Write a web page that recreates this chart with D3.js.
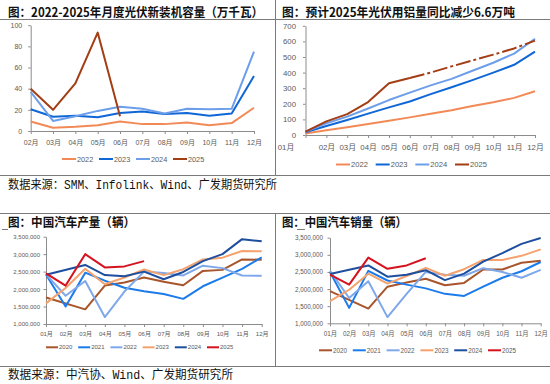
<!DOCTYPE html>
<html><head><meta charset="utf-8">
<script src="https://cdn.jsdelivr.net/npm/d3@7/dist/d3.min.js"></script>
<style>
html,body{margin:0;padding:0;background:#fff;}
svg{display:block;}
</style></head>
<body>
<svg id="c" width="550" height="384"></svg>
<script>
// ---------- DATA ----------
const pvMonths = ["02月","03月","04月","05月","06月","07月","08月","09月","10月","11月","12月"];
const pvYears = ["2022","2023","2024","2025"];
const pv2022 = [9,3,4,5.5,9,6.5,6.5,8,5.5,7.5,22];
const pv2023 = [20.5,13.5,14.5,13,17,18.5,16,17,14.5,16.5,52];
const pv2024 = [37,9.5,14,19,23,21,16.5,21,20.5,21,75];
const pv2025 = [40,20,45,93,14,null,null,null,null,null,null];
const pvTicks = [0,20,40,60,80,100];

const alMonths = ["01月","02月","03月","04月","05月","06月","07月","08月","09月","10月","11月","12月"];
const al2022 = [10,30,49,70,91,113,136,159,186,210,238,280];
const al2023 = [18,58,96,137,177,215,262,306,352,400,450,535];
const al2024 = [20,75,118,170,224,272,318,360,412,463,522,617];
const al2025 = [22,87,134,211,332,365,null,null,null,null,null,null];
const al2025Fcst = [null,null,null,null,null,365,400,440,478,515,555,605];
const alTicks = [0,100,200,300,400,500,600,700];

const carMonths = ["01月","02月","03月","04月","05月","06月","07月","08月","09月","10月","11月","12月"];
const carYears = ["2020","2021","2022","2023","2024","2025"];
const prod2020 = [1.76e6,null,1.42e6,2.10e6,2.19e6,2.33e6,2.21e6,2.11e6,2.52e6,2.55e6,2.85e6,2.84e6];
const prod2021 = [2.42e6,1.50e6,2.47e6,2.24e6,2.04e6,1.94e6,1.86e6,1.72e6,2.08e6,2.33e6,2.58e6,2.91e6];
const prod2022 = [2.42e6,1.81e6,2.23e6,1.20e6,1.93e6,2.50e6,2.46e6,2.39e6,2.67e6,2.60e6,2.39e6,2.38e6];
const prod2023 = [1.59e6,2.03e6,2.58e6,2.14e6,2.33e6,2.56e6,2.40e6,2.57e6,2.85e6,2.90e6,3.09e6,3.08e6];
const prod2024 = [2.41e6,null,2.69e6,2.40e6,2.37e6,2.50e6,2.28e6,2.49e6,2.80e6,3.00e6,3.43e6,3.37e6];
const prod2025 = [2.45e6,2.10e6,3.00e6,2.62e6,2.65e6,2.80e6,null,null,null,null,null,null];
const sale2020 = [1.94e6,null,1.43e6,2.07e6,2.19e6,2.30e6,2.11e6,2.18e6,2.57e6,2.57e6,2.77e6,2.83e6];
const sale2021 = [2.50e6,1.45e6,2.53e6,2.25e6,2.13e6,2.02e6,1.86e6,1.80e6,2.07e6,2.33e6,2.52e6,2.79e6];
const sale2022 = [2.53e6,1.74e6,2.23e6,1.18e6,1.86e6,2.50e6,2.42e6,2.39e6,2.61e6,2.50e6,2.33e6,2.56e6];
const sale2023 = [1.65e6,1.98e6,2.45e6,2.16e6,2.38e6,2.62e6,2.39e6,2.58e6,2.85e6,2.85e6,2.97e6,3.16e6];
const sale2024 = [2.44e6,null,2.69e6,2.36e6,2.42e6,2.55e6,2.26e6,2.45e6,2.80e6,3.05e6,3.32e6,3.49e6];
const sale2025 = [2.42e6,2.13e6,2.92e6,2.59e6,2.69e6,2.90e6,null,null,null,null,null,null];
const carTicks = [1e6,1.5e6,2e6,2.5e6,3e6,3.5e6];

// ---------- STYLE ----------
const C = {
  o:"#F28A57", b:"#0F66D6", lb:"#6D9EEA", dr:"#A33D14",
  c20:"#A8552B", c21:"#1C7BEA", c22:"#7EA8EA", c23:"#F4A26E", c24:"#1E4F9E", c25:"#D5121E"
};
const svg = d3.select("#c");
const CJK = "'Noto Sans CJK SC', sans-serif";
const LAT = "'Liberation Sans', Arial, 'Noto Sans CJK SC', sans-serif";

// frame lines
const frame = [
  [0,19,550,19],[0,175,550,175],[275,0,275,175],
  [0,213,550,213],[0,366,550,366],[275,213,275,366],
  [2,229,8,229],[297,229,305,229]
];
svg.selectAll("line.frame").data(frame).join("line").attr("class","frame")
  .attr("x1",d=>d[0]).attr("y1",d=>d[1]).attr("x2",d=>d[2]).attr("y2",d=>d[3])
  .attr("stroke","#7a7a7a").attr("stroke-width",1).attr("shape-rendering","crispEdges");

function title(x,y,txt,len){
  svg.append("text").attr("x",x).attr("y",y).text(txt)
    .attr("font-family",CJK).attr("font-weight","bold").attr("font-size",12.5)
    .attr("fill","#111").attr("textLength",len).attr("lengthAdjust","spacingAndGlyphs");
}
title(8,16.5,"图：2022-2025年月度光伏新装机容量（万千瓦）",255);
title(282,16.5,"图：预计2025年光伏用铝量同比减少6.6万吨",233);
title(8,227,"图：中国汽车产量（辆）",127);
title(282,227,"图：中国汽车销量（辆）",125);

function source(x,y,txt,len){
  svg.append("text").attr("x",x).attr("y",y).text(txt)
    .attr("font-family","'Liberation Mono','Noto Sans CJK SC',monospace").attr("font-size",12)
    .attr("fill","#111").attr("textLength",len).attr("lengthAdjust","spacingAndGlyphs");
}
source(8,189,"数据来源：SMM、Infolink、Wind、广发期货研究所",269);
source(8,379,"数据来源：中汽协、Wind、广发期货研究所",225);

function panel(o){
  const g = svg.append("g");
  const x = d3.scalePoint().domain(o.months).range(o.xr).padding(0);
  const y = d3.scaleLinear().domain(o.yd).range(o.yr);
  const xa = g.append("g").attr("transform",`translate(0,${o.yr[0]})`)
    .call(d3.axisBottom(x).tickSize(3).tickPadding(o.xpad).tickSizeOuter(0));
  const ya = g.append("g").attr("transform",`translate(${o.xr[0]},0)`)
    .call(d3.axisLeft(y).tickValues(o.ticks).tickSize(2.5).tickPadding(o.ypad).tickSizeOuter(0).tickFormat(o.fmt||d3.format("d")));
  [xa,ya].forEach(a=>{
    a.select(".domain").attr("stroke","#8c8c8c");
    a.selectAll(".tick line").attr("stroke","#8c8c8c");
    a.selectAll("text").attr("fill","#595959").attr("font-family",LAT).attr("font-size",o.fs);
  });
  if(o.firstShift){ xa.select(".tick text").attr("dx",o.firstShift); }
  const line = d3.line().x(d=>x(d.m)).y(d=>y(d.v));
  o.series.forEach(s=>{
    const pts = s.data.map((v,i)=>({m:o.months[i],v})).filter(d=>d.v!=null);
    g.append("path").datum(pts).attr("d",line).attr("fill","none")
      .attr("stroke",s.color).attr("stroke-width",s.w||2)
      .attr("stroke-linejoin","round")
      .attr("stroke-dasharray",s.dash||null);
  });
  // legend
  const lx = d3.scalePoint().domain(o.legend.map(d=>d.name)).range(o.lr);
  const lg = g.append("g");
  o.legend.forEach(l=>{
    const cx = lx(l.name);
    lg.append("line").attr("x1",cx).attr("x2",cx+o.ll).attr("y1",o.ly).attr("y2",o.ly)
      .attr("stroke",l.color).attr("stroke-width",2);
    lg.append("text").attr("x",cx+o.ll+1).attr("y",o.ly).attr("dy","0.35em").text(l.name)
      .attr("fill","#595959").attr("font-family",LAT).attr("font-size",o.lfs);
  });
}

panel({
  months:pvMonths, xr:[30.7,254], yd:[0,100], yr:[131,25.2], ticks:pvTicks,
  fs:7, xpad:6, ypad:6,
  series:[
    {data:pv2022,color:C.o},{data:pv2023,color:C.b},{data:pv2024,color:C.lb},{data:pv2025,color:C.dr}
  ],
  legend:[{name:"2022",color:C.o},{name:"2023",color:C.b},{name:"2024",color:C.lb},{name:"2025",color:C.dr}],
  lr:[62,173], ly:159, ll:14, lfs:7.3
});

panel({
  months:alMonths, xr:[305.5,535], yd:[0,700], yr:[135,25.8], ticks:alTicks,
  fs:7.8, xpad:6, ypad:7, firstShift:-20,
  series:[
    {data:al2022,color:C.o},{data:al2023,color:C.b},{data:al2024,color:C.lb},{data:al2025,color:C.dr},
    {data:al2025Fcst,color:C.dr,dash:"15,3,3,3"}
  ],
  legend:[{name:"2022",color:C.o},{name:"2023",color:C.b},{name:"2024",color:C.lb},{name:"2025",color:C.dr}],
  lr:[336,455], ly:164.5, ll:14, lfs:7.6
});

const carLegend = [
  {name:"2020",color:C.c20},{name:"2021",color:C.c21},{name:"2022",color:C.c22},
  {name:"2023",color:C.c23},{name:"2024",color:C.c24},{name:"2025",color:C.c25}
];
panel({
  months:carMonths, xr:[46,261.7], yd:[1e6,3.5e6], yr:[324,236.7], ticks:carTicks,
  fs:6, xpad:5, ypad:3.5, fmt:d3.format(","),
  series:[
    {data:prod2020,color:C.c20},{data:prod2021,color:C.c21},{data:prod2022,color:C.c22},
    {data:prod2023,color:C.c23},{data:prod2024,color:C.c24},{data:prod2025,color:C.c25}
  ],
  legend:carLegend, lr:[46,207], ly:347.3, ll:12, lfs:6
});
panel({
  months:carMonths, xr:[330,540.7], yd:[1e6,3.5e6], yr:[323.3,237.7], ticks:carTicks,
  fs:6.3, xpad:5.5, ypad:4.5, fmt:d3.format(","),
  series:[
    {data:sale2020,color:C.c20},{data:sale2021,color:C.c21},{data:sale2022,color:C.c22},
    {data:sale2023,color:C.c23},{data:sale2024,color:C.c24},{data:sale2025,color:C.c25}
  ],
  legend:carLegend, lr:[319,488], ly:350.3, ll:13, lfs:6.3
});
</script>
</body></html>
